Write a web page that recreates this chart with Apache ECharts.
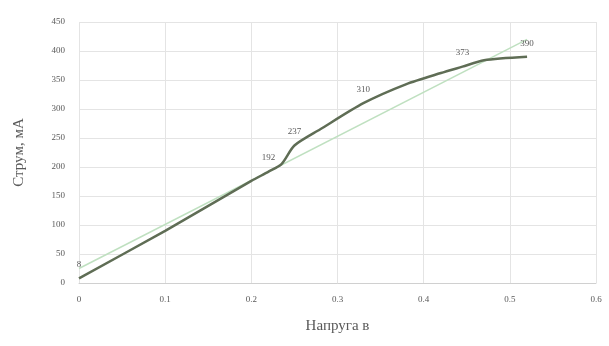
<!DOCTYPE html>
<html>
<head>
<meta charset="utf-8">
<script src="https://cdn.jsdelivr.net/npm/echarts@6/dist/echarts.min.js"></script>
<style>
  html, body { margin: 0; padding: 0; background: #fff; }
  #chart { width: 609px; height: 346px; }
</style>
</head>
<body>
<div id="chart"></div>
<script>
// Measured curve: voltage (V) and current (mA)
const volt = [0, 0.1, 0.2, 0.22, 0.235, 0.25, 0.28, 0.33, 0.38, 0.42, 0.445, 0.47, 0.52]
const current = [8, 90, 176, 192, 205, 237, 265, 310, 343, 362, 373, 384, 390]
// Points that carry a value label
const labeledIdx = [0, 3, 5, 7, 10, 12]

// Linear trend line end points
const trendVolt = [0, 0.52]
const trendCurrent = [25, 420]

const xTicks = [0, 0.6, 0.1]   // min, max, step
const yTicks = [0, 450, 50]

const serif = 'Liberation Serif'
const textGray = '#595959'

const chart = echarts.init(document.getElementById('chart'))

const option = {
  animation: false,
  grid: { left: 79, right: 13, top: 22, bottom: 63 },
  xAxis: {
    type: 'value',
    min: xTicks[0],
    max: xTicks[1],
    interval: xTicks[2],
    name: 'Напруга в',
    nameLocation: 'middle',
    nameGap: 36,
    nameTextStyle: { fontFamily: serif, fontSize: 15, color: textGray },
    axisLine: { show: true, lineStyle: { color: '#d0d0d0' } },
    axisTick: { show: false },
    axisLabel: { fontFamily: serif, fontSize: 9, color: textGray, margin: 12 },
    splitLine: { show: true, lineStyle: { color: '#e4e4e4' } },
  },
  yAxis: {
    type: 'value',
    min: yTicks[0],
    max: yTicks[1],
    interval: yTicks[2],
    name: 'Струм, мА',
    nameLocation: 'middle',
    nameGap: 52,
    nameTextStyle: { fontFamily: serif, fontSize: 15, color: textGray },
    axisLine: { show: false },
    axisTick: { show: false },
    axisLabel: { fontFamily: serif, fontSize: 9, color: textGray, margin: 14 },
    splitLine: { show: true, lineStyle: { color: '#e4e4e4' } },
  },
  series: [
    {
      name: 'trend',
      type: 'line',
      data: trendVolt.map((v, i) => [v, trendCurrent[i]]),
      symbol: 'none',
      lineStyle: { color: '#bfe0c0', width: 1.5 },
      z: 1,
    },
    {
      name: 'current',
      type: 'line',
      smooth: 0.25,
      symbol: 'circle',
      symbolSize: 0.1,
      showAllSymbol: true,
      data: volt.map((v, i) => ({
        value: [v, current[i]],
        label: { show: labeledIdx.includes(i) },
      })),
      label: {
        show: false,
        position: 'top',
        distance: 9,
        fontFamily: serif,
        fontSize: 9,
        color: textGray,
        formatter: p => p.value[1],
      },
      lineStyle: { color: '#5f6d55', width: 2.5 },
      itemStyle: { color: '#5f6d55' },
      z: 2,
    },
  ],
}

chart.setOption(option)
</script>
</body>
</html>
